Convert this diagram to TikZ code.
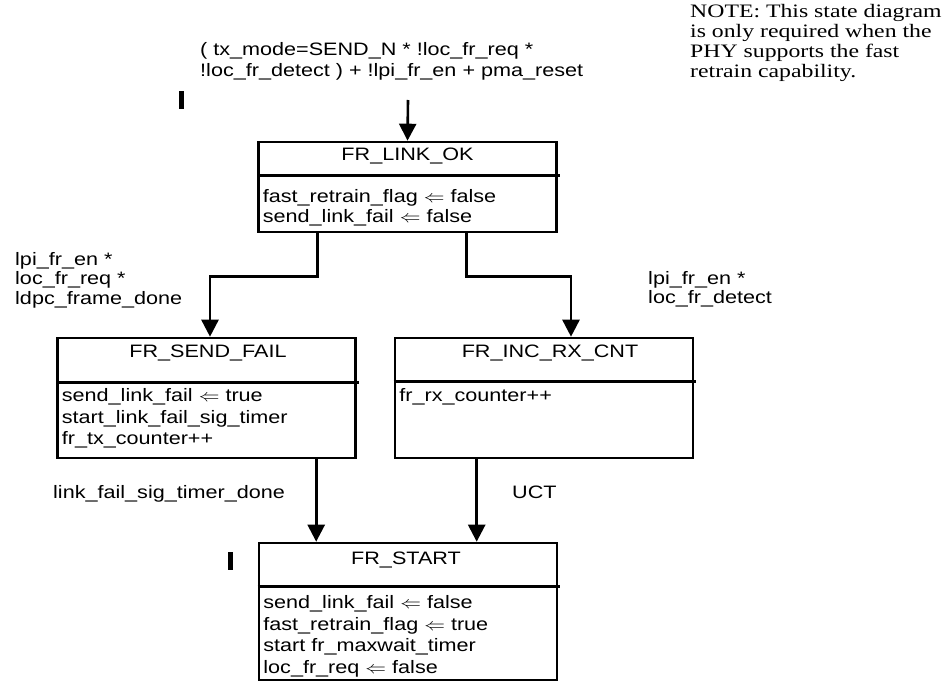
\documentclass[tikz,border=0pt]{standalone}
\usepackage{fontspec}
\setmainfont{Liberation Sans}[FakeStretch=1.2]
\newfontfamily\notefont{Liberation Serif}[FakeStretch=1.25]
\usetikzlibrary{arrows.meta,calc,positioning}
\tikzset{state/.style={draw, rectangle, line width=2.6pt, minimum width=298pt, inner sep=0pt}}
\tikzset{title/.style={anchor=base, inner sep=0pt, font=\fontsize{18}{20}\selectfont}}
\tikzset{body/.style={anchor=base west, inner sep=0pt, font=\fontsize{18}{20}\selectfont}}
\tikzset{cond/.style={anchor=base west, align=left, inner sep=0pt, font=\fontsize{18}{19.5}\selectfont}}
\tikzset{note/.style={anchor=base west, align=left, inner sep=0pt, font=\notefont\fontsize{19}{20}\selectfont}}
\tikzset{line/.style={draw, line width=2.6pt, -{Triangle[length=17pt,width=17pt]}}}
\tikzset{divider/.style={draw, line width=2.6pt}}
\tikzset{chgbar/.style={fill=black, minimum width=5pt, minimum height=18pt, inner sep=0pt}}
\newcommand{\assign}{\scalebox{1.2}[1]{$\Leftarrow$}}

\begin{document}
\begin{tikzpicture}[x=1pt,y=-1pt]
\useasboundingbox (0,0) rectangle (942,690);

%STATES
\node [state, minimum height=90pt] (linkok) at (407.5,187) {};
\node [state, minimum height=120pt] (sendfail) at (206.5,398) {};
\node [state, minimum height=120pt] (incrx) at (544,398) {};
\node [state, minimum height=137pt] (start) at (408,611.5) {};

%TITLES
\node [title] (linkok-t) at ($(linkok.north)+(0,20)$) {FR\_LINK\_OK};
\node [title] (sendfail-t) at ($(sendfail.north)+(1.5,21)$) {FR\_SEND\_FAIL};
\node [title] (incrx-t) at ($(incrx.north)+(6,21)$) {FR\_INC\_RX\_CNT};
\node [title] (start-t) at ($(start.north)+(-2,23)$) {FR\_START};

%DIVIDERS
\path [divider] ($(linkok.north west)+(0,35)$) -- ($(linkok.north east)+(2,35)$);
\path [divider] ($(sendfail.north west)+(0,46)$) -- ($(sendfail.north east)+(2,46)$);
\path [divider] ($(incrx.north west)+(0,45)$) -- ($(incrx.north east)+(2,45)$);
\path [divider] ($(start.north west)+(0,45)$) -- ($(start.north east)+(2,45)$);

%ACTIONS
\foreach \act [count=\i] in {fast\_retrain\_flag \assign{} false, send\_link\_fail \assign{} false}
  \node [body] (linkok-\i) at ($(linkok.north west)+(5.5,42+20*\i)$) {\act};
\foreach \act [count=\i] in {send\_link\_fail \assign{} true, start\_link\_fail\_sig\_timer, fr\_tx\_counter++}
  \node [body] (sendfail-\i) at ($(sendfail.north west)+(5.5,43.5+21.5*\i)$) {\act};
\node [body] (incrx-1) at ($(incrx.north west)+(5.5,65)$) {fr\_rx\_counter++};
\foreach \act [count=\i] in {send\_link\_fail \assign{} false, fast\_retrain\_flag \assign{} true, start fr\_maxwait\_timer, loc\_fr\_req \assign{} false}
  \node [body] (start-\i) at ($(start.north west)+(5.5,45.5+21.5*\i)$) {\act};

%CONDITIONS
\node [cond] (entry-c1) at (200,56) {( tx\_mode=SEND\_N * !loc\_fr\_req *};
\node [cond] (entry-c2) at (200,77) {!loc\_fr\_detect ) + !lpi\_fr\_en + pma\_reset};
\foreach \cnd [count=\i] in {lpi\_fr\_en *, loc\_fr\_req *, ldpc\_frame\_done}
  \node [cond] (fail-c\i) at (15,245.5+19.5*\i) {\cnd};
\foreach \cnd [count=\i] in {lpi\_fr\_en *, loc\_fr\_detect}
  \node [cond] (rx-c\i) at (648,264.5+19.5*\i) {\cnd};
\node [cond] (timer-c) at (53,498) {link\_fail\_sig\_timer\_done};
\node [cond] (uct-c) at (512,498) {UCT};

%NOTE
\foreach \txt [count=\i] in {NOTE: This state diagram, is only required when the, PHY supports the fast, retrain capability.}
  \node [note] (note-\i) at (690,-2+20*\i) {\txt};

%CHANGE BARS
\node [chgbar] (bar1) at (181,100) {};
\node [chgbar] (bar2) at (230.5,561) {};

%TRANSITIONS
\coordinate (entry) at (408,100);
\path [line] (entry) -- (linkok.north);
\path [line] ($(linkok.south west)+(60,0)$) -- ++(0,43) -| ($(sendfail.north)+(3.5,0)$);
\path [line] ($(linkok.south west)+(209,0)$) -- ++(0,43) -| ($(incrx.north)+(27,0)$);
\path [line] ($(sendfail.south west)+(260,0)$) coordinate (sf-out) -- (sf-out |- start.north);
\path [line] ($(incrx.south west)+(83,0)$) coordinate (rx-out) -- (rx-out |- start.north);

\end{tikzpicture}
\end{document}
